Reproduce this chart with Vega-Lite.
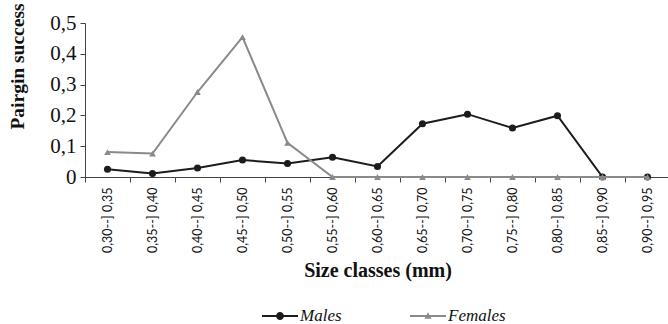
{
  "$schema": "https://vega.github.io/schema/vega-lite/v6.json",
  "width": 585,
  "height": 154,
  "autosize": "none",
  "padding": {"left": 85, "top": 23, "right": 0, "bottom": 147},
  "background": "white",
  "config": {
    "view": {"stroke": null},
    "font": "Liberation Serif"
  },
  "data": {
    "values": [
      {"cls": "0,30--] 0,35", "series": "Males", "v": 0.025},
      {"cls": "0,35--] 0,40", "series": "Males", "v": 0.011},
      {"cls": "0,40--] 0,45", "series": "Males", "v": 0.029},
      {"cls": "0,45--] 0,50", "series": "Males", "v": 0.055},
      {"cls": "0,50--] 0,55", "series": "Males", "v": 0.044},
      {"cls": "0,55--] 0,60", "series": "Males", "v": 0.064},
      {"cls": "0,60--] 0,65", "series": "Males", "v": 0.034},
      {"cls": "0,65--] 0,70", "series": "Males", "v": 0.173},
      {"cls": "0,70--] 0,75", "series": "Males", "v": 0.204},
      {"cls": "0,75--] 0,80", "series": "Males", "v": 0.159},
      {"cls": "0,80--] 0,85", "series": "Males", "v": 0.199},
      {"cls": "0,85--] 0,90", "series": "Males", "v": 0},
      {"cls": "0,90--] 0,95", "series": "Males", "v": 0},
      {"cls": "0,30--] 0,35", "series": "Females", "v": 0.081},
      {"cls": "0,35--] 0,40", "series": "Females", "v": 0.076},
      {"cls": "0,40--] 0,45", "series": "Females", "v": 0.276},
      {"cls": "0,45--] 0,50", "series": "Females", "v": 0.454},
      {"cls": "0,50--] 0,55", "series": "Females", "v": 0.111},
      {"cls": "0,55--] 0,60", "series": "Females", "v": 0},
      {"cls": "0,60--] 0,65", "series": "Females", "v": 0},
      {"cls": "0,65--] 0,70", "series": "Females", "v": 0},
      {"cls": "0,70--] 0,75", "series": "Females", "v": 0},
      {"cls": "0,75--] 0,80", "series": "Females", "v": 0},
      {"cls": "0,80--] 0,85", "series": "Females", "v": 0},
      {"cls": "0,85--] 0,90", "series": "Females", "v": 0},
      {"cls": "0,90--] 0,95", "series": "Females", "v": 0}
    ]
  },
  "encoding": {
    "x": {
      "field": "cls",
      "type": "nominal",
      "sort": null,
      "bandPosition": 0.5,
      "scale": {"type": "band", "paddingInner": 0, "paddingOuter": 0},
      "axis": {
        "title": "Size classes (mm)",
        "titleFont": "Liberation Serif",
        "titleFontSize": 20,
        "titleFontWeight": "bold",
        "titleColor": "#111",
        "titlePadding": 8,
        "labelAngle": -90,
        "labelFont": "Lato",
        "labelFontSize": 12.5,
        "labelColor": "#111",
        "labelPadding": 5,
        "tickBand": "extent",
        "tickSize": 5,
        "tickColor": "#444",
        "domainColor": "#444",
        "grid": false
      }
    },
    "y": {
      "field": "v",
      "type": "quantitative",
      "scale": {"domain": [0, 0.5], "nice": false},
      "axis": {
        "title": "Pairgin success",
        "titleFont": "Liberation Serif",
        "titleFontSize": 19.5,
        "titleFontWeight": "bold",
        "titleColor": "#111",
        "titlePadding": 22,
        "titleY": 43,
        "values": [0, 0.1, 0.2, 0.3, 0.4, 0.5],
        "labelExpr": "datum.value == 0 ? '0' : replace(format(datum.value, '.1f'), '.', ',')",
        "labelFont": "Liberation Serif",
        "labelFontSize": 21,
        "labelColor": "#111",
        "labelPadding": 4,
        "tickSize": 5,
        "tickColor": "#444",
        "domainColor": "#444",
        "grid": false
      }
    },
    "color": {
      "field": "series",
      "type": "nominal",
      "scale": {"domain": ["Males", "Females"], "range": ["#1c1c1c", "#8a8a8a"]},
      "legend": {
        "title": null,
        "orient": "none",
        "legendX": 177,
        "legendY": 275,
        "direction": "horizontal",
        "labelFont": "Liberation Serif",
        "labelFontSize": 17,
        "labelFontStyle": "italic",
        "labelColor": "#111",
        "labelOffset": 2,
        "columnPadding": 68,
        "symbolSize": 1296,
        "encode": {
          "symbols": {
            "update": {
              "shape": {"signal": "datum.value === 'Males' ? 'M-1,-0.055H1V0.055H-1Z M0.22,0 A0.22,0.22 0 1,1 -0.22,0 A0.22,0.22 0 1,1 0.22,0Z' : 'M-1,-0.055H1V0.055H-1Z M0,-0.21L0.2,0.15L-0.2,0.15Z'"},
              "fill": {"scale": "color", "field": "value"},
              "stroke": {"value": "transparent"},
              "strokeWidth": {"value": 0},
              "size": {"value": 1296},
              "opacity": {"value": 1}
            }
          }
        }
      }
    }
  },
  "layer": [
    {
      "transform": [{"filter": "datum.series === 'Males'"}],
      "mark": {"type": "line", "strokeWidth": 2}
    },
    {
      "transform": [{"filter": "datum.series === 'Males'"}],
      "mark": {"type": "point", "filled": true, "shape": "circle", "size": 50, "opacity": 1}
    },
    {
      "transform": [{"filter": "datum.series === 'Females'"}],
      "mark": {"type": "line", "strokeWidth": 2}
    },
    {
      "transform": [{"filter": "datum.series === 'Females'"}],
      "mark": {"type": "point", "filled": true, "shape": "triangle-up", "size": 45, "opacity": 1}
    }
  ]
}
